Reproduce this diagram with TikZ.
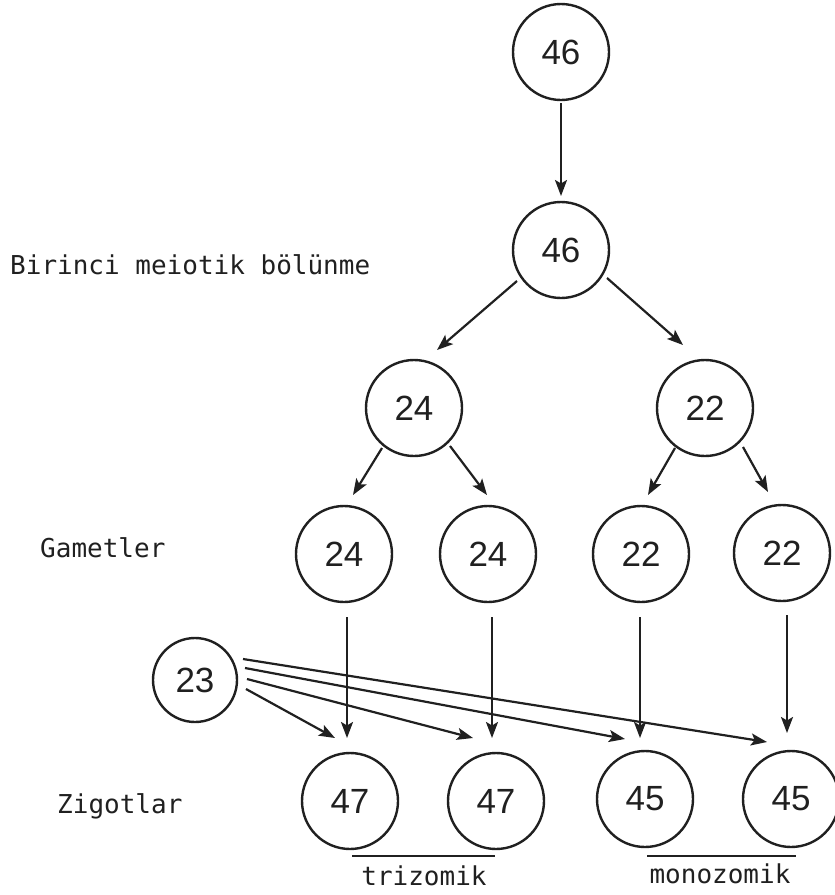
\documentclass[tikz,border=0pt]{standalone}
\usepackage{fontspec}
\setmainfont{Liberation Sans}
\newfontfamily\labelfont{DejaVu Sans Mono}
\usetikzlibrary{arrows.meta,calc}
\definecolor{ink}{HTML}{202020}
\tikzset{
  cell/.style={circle, draw=ink, line width=2.4pt, minimum size=96pt, inner sep=0pt,
               font=\fontsize{35}{35}\selectfont, text=ink},
  smallcell/.style={cell, minimum size=84pt},
  arr/.style={draw=ink, line width=2.2pt, -{Stealth[length=16pt,width=12pt,inset=3.5pt]}},
  lbl/.style={font=\labelfont\fontsize{26}{26}\selectfont, text=ink, inner sep=0pt},
  bar/.style={draw=ink, line width=2.4pt}
}
\begin{document}
\begin{tikzpicture}[x=1pt,y=-1pt]
  \useasboundingbox (0,0) rectangle (835,895);

  % cells
  \node[cell] (top) at (561,52) {46};
  \node[cell] (m)   at (561,250) {46};
  \node[cell] (a)   at (414,408) {24};
  \node[cell] (b)   at (705,408) {22};
  \node[cell] (g1)  at (344,554) {24};
  \node[cell] (g2)  at (488,554) {24};
  \node[cell] (g3)  at (641,554) {22};
  \node[cell] (g4)  at (782,553) {22};
  \node[smallcell] (h) at (195,680) {23};
  \node[cell] (z1)  at (350,801) {47};
  \node[cell] (z2)  at (496,801) {47};
  \node[cell] (z3)  at (645,799) {45};
  \node[cell] (z4)  at (791,799) {45};

  % meiosis
  \draw[arr] ($(top)+(0,51)$) -- ($(m)+(0,-54)$);
  \draw[arr] ($(m)+(-44,31)$) -- ($(a)+(23,-58)$);
  \draw[arr] ($(m)+(46,28)$) -- ($(b)+(-22,-63)$);
  \draw[arr] ($(a)+(-32,40)$) -- ($(g1)+(9,-59)$);
  \draw[arr] ($(a)+(36,38)$) -- ($(g2)+(-1,-59)$);
  \draw[arr] ($(b)+(-30,40)$) -- ($(g3)+(7,-59)$);
  \draw[arr] ($(b)+(38,39)$) -- ($(g4)+(-14,-61)$);

  % fertilisation
  \draw[arr] ($(g1)+(3,63)$) -- ($(z1)+(-3,-63)$);
  \draw[arr] ($(g2)+(4,63)$) -- ($(z2)+(-4,-63)$);
  \draw[arr] ($(g3)+(-1,63)$) -- ($(z3)+(-5,-61)$);
  \draw[arr] ($(g4)+(5,62)$) -- ($(z4)+(-4,-66)$);
  \draw[arr] ($(h)+(48,-21)$) -- ($(z4)+(-24,-57)$);
  \draw[arr] ($(h)+(50,-12)$) -- ($(z3)+(-20,-60)$);
  \draw[arr] ($(h)+(52,-1)$) -- ($(z2)+(-23,-63)$);
  \draw[arr] ($(h)+(51,9)$) -- ($(z1)+(-15,-63)$);

  % labels
  \node[lbl, anchor=base west] (l1) at (10,274) {Birinci meiotik bölünme};
  \node[lbl, anchor=base west] (l2) at (40,557) {Gametler};
  \node[lbl, anchor=base west] (l3) at (57,813) {Zigotlar};
  \node[lbl, anchor=base] (l4) at (424,885) {trizomik};
  \node[lbl, anchor=base] (l5) at (720,883) {monozomik};
  \draw[bar] (352,856) -- (495,856);
  \draw[bar] (647,856) -- (796,856);
\end{tikzpicture}
\end{document}
